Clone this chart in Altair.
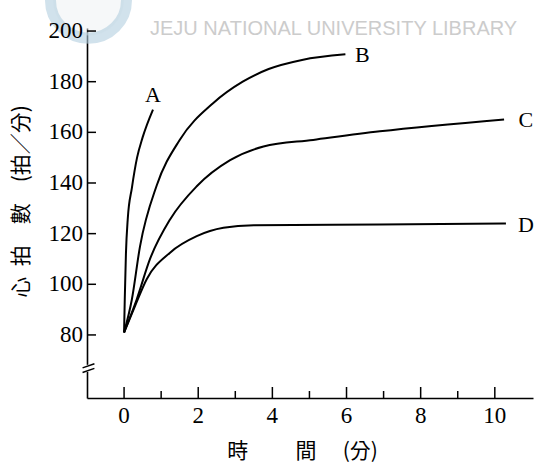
import altair as alt
import pandas as pd

# ---- data ----
a_t = [0.0, 0.02, 0.05, 0.10, 0.21, 0.35, 0.50, 0.78]
a_v = [81, 95, 112, 126, 138, 150, 158, 169]

b_t = [0.0, 0.21, 0.43, 0.88, 1.5, 2.4, 3.2, 3.9, 4.8, 5.97]
b_v = [81, 94, 115, 139, 157, 171.5, 180, 185, 188.6, 190.8]

c_t = [0.0, 0.34, 0.70, 1.24, 1.96, 2.86, 3.76, 5.1, 6.9, 10.25]
c_v = [81, 94, 110, 125.6, 138.7, 149, 154.4, 157, 160.4, 165.1]

d_t = [0.0, 0.30, 0.61, 1.24, 1.96, 2.68, 3.5, 6.9, 10.3]
d_v = [81, 91.6, 102, 112.5, 119, 122.3, 123.3, 123.6, 124]

label_names = ["A", "B", "C", "D"]
label_t = [0.78, 6.43, 10.84, 10.84]
label_v = [174.7, 190.6, 164.9, 123.4]

x_major = [0, 2, 4, 6, 8, 10]
x_minor = [1, 3, 5, 7, 9]
y_ticks = [80, 100, 120, 140, 160, 180, 200]

x_title = "時\u3000\u3000\u2005間\u3000\u2005(分)"
y_title = "心\u2002拍\u3000數\u3000(拍／分)"

XMIN, XMAX = -1.0, 11.03
YMIN, YMAX = 55.1, 201.2

rows = []
for name, ts, vs in [("A", a_t, a_v), ("B", b_t, b_v), ("C", c_t, c_v), ("D", d_t, d_v)]:
    for t, v in zip(ts, vs):
        rows.append({"curve": name, "t": t, "v": v})
df = pd.DataFrame(rows)

xs = alt.Scale(domain=[XMIN, XMAX], nice=False, zero=False)
ys = alt.Scale(domain=[YMIN, YMAX], nice=False, zero=False)

xaxis = alt.Axis(values=x_major, labels=False, title=x_title)
yaxis = alt.Axis(values=y_ticks, labels=False, title=y_title)

X = lambda f: alt.X(f, scale=xs, axis=xaxis)
Y = lambda f: alt.Y(f, scale=ys, axis=yaxis)

# faint watermark
logo_df = pd.DataFrame({"t": [-0.96], "v": [212.2]})
logo_fill = alt.Chart(logo_df).mark_point(
    shape="circle", size=5000, filled=True, color="#eef1f3", opacity=0.5
).encode(x=X("t:Q"), y=Y("v:Q"))
logo = alt.Chart(logo_df).mark_point(
    shape="circle", size=5776, filled=False, color="#b3cfe0", strokeWidth=11, opacity=0.6
).encode(x=X("t:Q"), y=Y("v:Q"))
wm = alt.Chart(pd.DataFrame({"t": [0.70], "v": [201.0],
                             "s": ["JEJU NATIONAL UNIVERSITY  LIBRARY"]})).mark_text(
    font="Liberation Sans", fontSize=20, color="#cccccc", align="left", baseline="middle"
).encode(x=X("t:Q"), y=Y("v:Q"), text="s:N")

lines = alt.Chart(df).mark_line(color="black", strokeWidth=2, interpolate="monotone").encode(
    x=X("t:Q"), y=Y("v:Q"), detail="curve:N")

labels = alt.Chart(pd.DataFrame({"n": label_names, "t": label_t, "v": label_v})).mark_text(
    font="Liberation Serif", fontSize=22, color="black"
).encode(x=X("t:Q"), y=Y("v:Q"), text="n:N")

# tick labels (serif)
xl = pd.DataFrame({"t": x_major, "y": [YMIN] * 6, "s": [str(v) for v in x_major]})
xlab = alt.Chart(xl).mark_text(font="Liberation Serif", fontSize=23, color="black",
                               baseline="top", dy=7).encode(
    x=X("t:Q"), y=Y("y:Q"), text="s:N")
yl = pd.DataFrame({"v": y_ticks, "x": [XMIN] * 7, "s": [str(v) for v in y_ticks]})
ylab = alt.Chart(yl).mark_text(font="Liberation Serif", fontSize=23, color="black",
                               align="right", baseline="middle", dx=-4).encode(
    x=X("x:Q"), y=Y("v:Q"), text="s:N")

# inward ticks
xt = pd.DataFrame({"t": x_major + x_minor,
                   "y0": [YMIN] * 11,
                   "y1": [YMIN + 11 / 2.533] * 6 + [YMIN + 7 / 2.533] * 5})
xticks = alt.Chart(xt).mark_rule(color="black", strokeWidth=1.5).encode(
    x=X("t:Q"), y=Y("y0:Q"), y2="y1:Q")

yt = pd.DataFrame({"v": y_ticks, "x0": [XMIN] * 7, "x1": [XMIN + 9 / 37.0] * 7})
yticks = alt.Chart(yt).mark_rule(color="black", strokeWidth=1.5).encode(
    y=Y("v:Q"), x=X("x0:Q"), x2="x1:Q")

# axis break
gap = alt.Chart(pd.DataFrame({"x": [XMIN], "y0": [65.4], "y1": [68.2]})).mark_rule(
    color="white", strokeWidth=5).encode(x=X("x:Q"), y=Y("y0:Q"), y2="y1:Q")
brk = alt.Chart(pd.DataFrame({"x0": [-1.12, -1.12], "x1": [-0.80, -0.80],
                              "y0": [67.0, 65.2], "y1": [68.6, 66.8]})).mark_rule(
    color="black", strokeWidth=1.5).encode(x=X("x0:Q"), x2="x1:Q", y=Y("y0:Q"), y2="y1:Q")

chart = alt.layer(logo_fill, logo, wm, lines, xticks, yticks, gap, brk, labels, xlab, ylab).properties(
    width=446, height=370,
    autosize=alt.AutoSizeParams(type="none"),
    padding={"left": 87, "top": 28, "right": 1, "bottom": 68},
).configure(background="white").configure_view(stroke=None).configure_axis(
    ticks=False, grid=False, domainColor="black", domainWidth=1.6,
    titleFont="Noto Sans CJK TC", titleFontSize=21, titleFontWeight="normal",
    titleColor="black",
).configure_axisX(
    titleX=215, titleY=53, titleBaseline="middle", titleAlign="center",
).configure_axisY(
    titleAngle=270, titleX=-66, titleY=173, titleBaseline="middle",
    titleAlign="center",
)

chart.save("out.html", embed_options={"renderer": "svg", "actions": False})
